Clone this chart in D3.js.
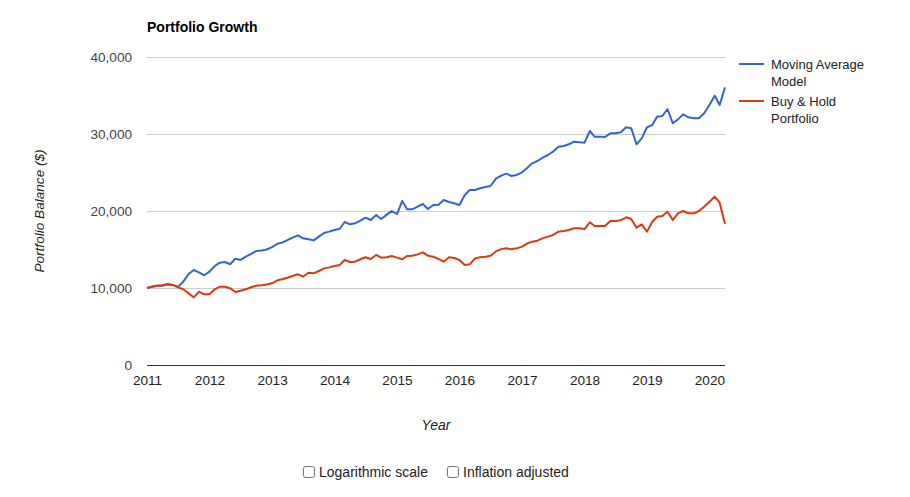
<!DOCTYPE html>
<html><head><meta charset="utf-8">
<script src="https://cdn.jsdelivr.net/npm/d3@7"></script>
<style>
html,body{margin:0;padding:0;background:#fff;}
svg{display:block;font-family:"Liberation Sans",Arial,sans-serif;}
</style></head>
<body>
<svg id="chart" width="910" height="497"></svg>
<script>
// Data (monthly, Jan 2011 - Apr 2020)
const startYear = 2011, startMonth = 0;
const movingAverage = [
10000,10150,10280,10300,10480,10400,10150,10820,11820,12340,12040,11650,
12120,12860,13290,13380,13080,13810,13640,14070,14420,14810,14880,15000,
15300,15750,15890,16230,16540,16840,16450,16320,16190,16670,17140,17320,
17530,17700,18570,18270,18400,18740,19130,18830,19480,18960,19500,20000,
19610,21300,20220,20220,20560,20910,20260,20780,20820,21430,21170,21000,
20780,22080,22730,22730,22950,23120,23250,24200,24600,24850,24550,24680,
25030,25620,26190,26490,26930,27270,27700,28350,28440,28660,29000,28920,
28870,30390,29650,29650,29610,30090,30090,30220,30870,30740,28660,29440,
30870,31170,32250,32340,33250,31390,31900,32560,32170,32040,32040,32700,
33770,34970,33770,36060];
const buyHold = [
10000,10200,10280,10350,10480,10400,10100,9830,9300,8790,9520,9180,
9180,9830,10170,10170,9960,9480,9650,9830,10090,10300,10350,10450,
10610,11000,11130,11340,11560,11780,11470,11990,11910,12210,12550,12680,
12860,13000,13640,13380,13420,13730,13990,13770,14290,13940,14000,14160,
13940,13730,14160,14200,14370,14630,14200,14070,13770,13420,13990,13900,
13640,12990,13070,13850,13990,14070,14200,14750,15050,15150,15020,15150,
15370,15800,16020,16150,16450,16670,16880,17320,17400,17530,17750,17750,
17660,18530,18050,18050,18050,18700,18700,18800,19180,18960,17830,18270,
17320,18610,19260,19350,19910,18830,19700,20000,19700,19700,20000,20550,
21210,21860,21080,18310];
const seriesNames = ["Moving Average Model", "Buy & Hold Portfolio"];
const legendLines = [["Moving Average","Model"],["Buy & Hold","Portfolio"]];
const yTicks = [0,10000,20000,30000,40000];
const xTickYears = [2011,2012,2013,2014,2015,2016,2017,2018,2019,2020];
const colors = ["#3366cc","#dc3912"];
const checkboxLabels = ["Logarithmic scale","Inflation adjusted"];

const svg = d3.select("#chart");
const L = 147, R = 725, T = 57, B = 365;
const dates = movingAverage.map((_, i) => new Date(startYear, startMonth + i, 1));
const x = d3.scaleTime().domain([dates[0], dates[dates.length-1]]).range([L, R]);
const y = d3.scaleLinear().domain([0, 40000]).range([B, T]);

// gridlines
svg.append("g").selectAll("line").data(yTicks.filter(d=>d>0)).join("line")
  .attr("x1", L).attr("x2", R)
  .attr("y1", d => Math.round(y(d))+0.5).attr("y2", d => Math.round(y(d))+0.5)
  .attr("stroke", "#cccccc").attr("stroke-width", 1);

// y axis labels
const yAxis = d3.axisLeft(y).tickValues(yTicks).tickSize(0).tickPadding(0)
  .tickFormat(d3.format(","));
const gy = svg.append("g").attr("transform", `translate(${L-15},0)`).call(yAxis);
gy.select(".domain").remove();
gy.selectAll("text").attr("font-size", 13.6).attr("fill", "#444")
  .attr("font-family", '"Liberation Sans",Arial,sans-serif');

// x axis labels
const xAxis = d3.axisBottom(x).tickValues(xTickYears.map(yr => new Date(yr,0,1)))
  .tickSize(0).tickPadding(0).tickFormat(d3.timeFormat("%Y"));
const gx = svg.append("g").attr("transform", `translate(0,${B+10})`).call(xAxis);
gx.select(".domain").remove();
gx.selectAll("text").attr("font-size", 13.6).attr("fill", "#222")
  .attr("font-family", '"Liberation Sans",Arial,sans-serif');

// baseline
svg.append("line").attr("x1", L).attr("x2", R)
  .attr("y1", Math.round(y(0))+0.5).attr("y2", Math.round(y(0))+0.5)
  .attr("stroke", "#333").attr("stroke-width", 1);

// lines
const line = d3.line().x((d,i) => x(dates[i])).y(d => y(d));
[movingAverage, buyHold].forEach((s, k) => {
  svg.append("path").datum(s).attr("d", line)
    .attr("fill", "none").attr("stroke", colors[k]).attr("stroke-width", 2)
    .attr("stroke-linejoin", "round");
});

// title
svg.append("text").attr("x", L).attr("y", 32).text("Portfolio Growth")
  .attr("font-size", 14).attr("font-weight", "bold").attr("fill", "#000");

// axis titles
svg.append("text").attr("x", (L+R)/2).attr("y", 430).attr("text-anchor", "middle")
  .attr("font-size", 14).attr("font-style", "italic").attr("fill", "#222").text("Year");
svg.append("text").attr("transform", `translate(44,${(T+B)/2}) rotate(-90)`)
  .attr("text-anchor", "middle").attr("font-size", 13.6).attr("font-style", "italic")
  .attr("fill", "#222").text("Portfolio Balance ($)");

// legend
const lg = svg.append("g");
legendLines.forEach((lines, k) => {
  const yy = 64 + k*37;
  lg.append("line").attr("x1", 739).attr("x2", 764).attr("y1", yy).attr("y2", yy)
    .attr("stroke", colors[k]).attr("stroke-width", 2);
  lines.forEach((t, j) => {
    lg.append("text").attr("x", 771).attr("y", yy + 4.5 + j*17)
      .attr("font-size", 13).attr("fill", "#222").text(t);
  });
});

// checkboxes
const cbX = [303, 447];
checkboxLabels.forEach((t, k) => {
  svg.append("rect").attr("x", cbX[k]+0.5).attr("y", 466.5).attr("width", 11).attr("height", 11)
    .attr("rx", 2).attr("fill", "#fff").attr("stroke", "#767676").attr("stroke-width", 1);
  svg.append("text").attr("x", cbX[k]+16).attr("y", 477).attr("font-size", 14)
    .attr("fill", "#222").text(t);
});
</script>
</body></html>
